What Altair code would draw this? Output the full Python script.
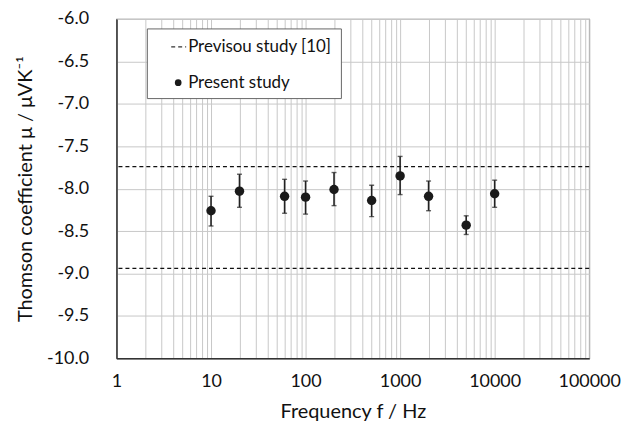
import altair as alt
import pandas as pd

# ---- data ----
freqs = [10, 20, 60, 100, 200, 500, 1000, 2000, 5000, 10000]
values = [-8.26, -8.03, -8.09, -8.10, -8.01, -8.14, -7.85, -8.09, -8.43, -8.06]
upper = [-8.09, -7.83, -7.89, -7.91, -7.81, -7.96, -7.62, -7.91, -8.32, -7.90]
lower = [-8.44, -8.22, -8.29, -8.30, -8.20, -8.33, -8.07, -8.26, -8.54, -8.22]
previous_bounds = [-7.74, -8.94]

x_grid_values = [m * 10 ** e for e in range(0, 5) for m in range(1, 10)] + [100000]
y_ticks = [-10.0, -9.5, -9.0, -8.5, -8.0, -7.5, -7.0, -6.5, -6.0]

legend_labels = ["Previsou study [10]", "Present study"]

FONT = "Lato"

df = pd.DataFrame({"f": freqs, "mu": values, "hi": upper, "lo": lower})
prev_df = pd.DataFrame({"mu": previous_bounds})
one = pd.DataFrame({"a": [0]})

xscale = alt.Scale(type="log", domain=[1, 100000], nice=False)
yscale = alt.Scale(domain=[-10, -6], nice=False, zero=False)

xaxis = alt.Axis(
    values=x_grid_values,
    labelExpr="(log(datum.value)/log(10)) % 1 < 0.001 || (log(datum.value)/log(10)) % 1 > 0.999 ? format(datum.value, 'd') : ''",
    title="Frequency f / Hz",
    grid=True,
    ticks=False,
    labelFlush=False,
    labelOverlap=False,
    labelPadding=14,
    titlePadding=11,
)
yaxis = alt.Axis(
    values=y_ticks,
    labelExpr="'-' + format(abs(datum.value), '.1f')",
    title="Thomson coefficient  μ / μVK⁻¹",
    grid=True,
    ticks=False,
    labelFlush=False,
    labelOverlap=False,
    labelPadding=28,
    titlePadding=11,
)

base = alt.Chart(df)

prev_lines = alt.Chart(prev_df).mark_rule(
    color="#111111", strokeDash=[4, 3], strokeWidth=1.3
).encode(y=alt.Y("mu:Q", scale=yscale, axis=yaxis))

bars = base.mark_rule(color="#222222", strokeWidth=1.6).encode(
    x=alt.X("f:Q", scale=xscale, axis=xaxis),
    y=alt.Y("lo:Q", scale=yscale),
    y2="hi:Q",
)
cap_hi = base.mark_tick(color="#222222", orient="horizontal", size=5, thickness=1.4).encode(
    x=alt.X("f:Q", scale=xscale), y=alt.Y("hi:Q", scale=yscale)
)
cap_lo = base.mark_tick(color="#222222", orient="horizontal", size=5, thickness=1.4).encode(
    x=alt.X("f:Q", scale=xscale), y=alt.Y("lo:Q", scale=yscale)
)
points = base.mark_circle(color="#1a1a1a", size=90, opacity=1).encode(
    x=alt.X("f:Q", scale=xscale), y=alt.Y("mu:Q", scale=yscale)
)

# ---- legend box ----
leg_box = alt.Chart(one).mark_rect(fill="white", stroke="#666666", strokeWidth=1).encode(
    x=alt.value(31), x2=alt.value(226), y=alt.value(10), y2=alt.value(80)
)
leg_dash = alt.Chart(one).mark_rule(color="#333333", strokeDash=[4, 3], strokeWidth=1.2).encode(
    x=alt.value(55), x2=alt.value(70), y=alt.value(28)
)
leg_dot = alt.Chart(one).mark_circle(color="#1a1a1a", size=45, opacity=1).encode(
    x=alt.value(62), y=alt.value(64)
)
leg_t1 = alt.Chart(one).mark_text(
    align="left", baseline="middle", font=FONT, fontSize=17, color="#111111"
).encode(x=alt.value(72), y=alt.value(28), text=alt.value(legend_labels[0]))
leg_t2 = alt.Chart(one).mark_text(
    align="left", baseline="middle", font=FONT, fontSize=17, color="#111111"
).encode(x=alt.value(72), y=alt.value(64), text=alt.value(legend_labels[1]))

chart = (
    alt.layer(prev_lines, bars, cap_hi, cap_lo, points, leg_box, leg_dash, leg_dot, leg_t1, leg_t2)
    .properties(
        width=475,
        height=341,
        autosize=alt.AutoSizeParams(type="none"),
        padding={"left": 109, "top": 10, "right": 42, "bottom": 76},
        background="white",
    )
    .configure_view(stroke="#7a7a7a", strokeWidth=1.2)
    .configure_axis(
        labelFont=FONT,
        titleFont=FONT,
        labelFontSize=18,
        titleFontSize=20,
        titleFontWeight="normal",
        labelColor="#111111",
        titleColor="#111111",
        gridColor="#c8c8c8",
        gridWidth=1,
        domainColor="#333333",
        domainWidth=1.5,
    )
)

chart.save("out.html", embed_options={"renderer": "svg", "actions": False})
